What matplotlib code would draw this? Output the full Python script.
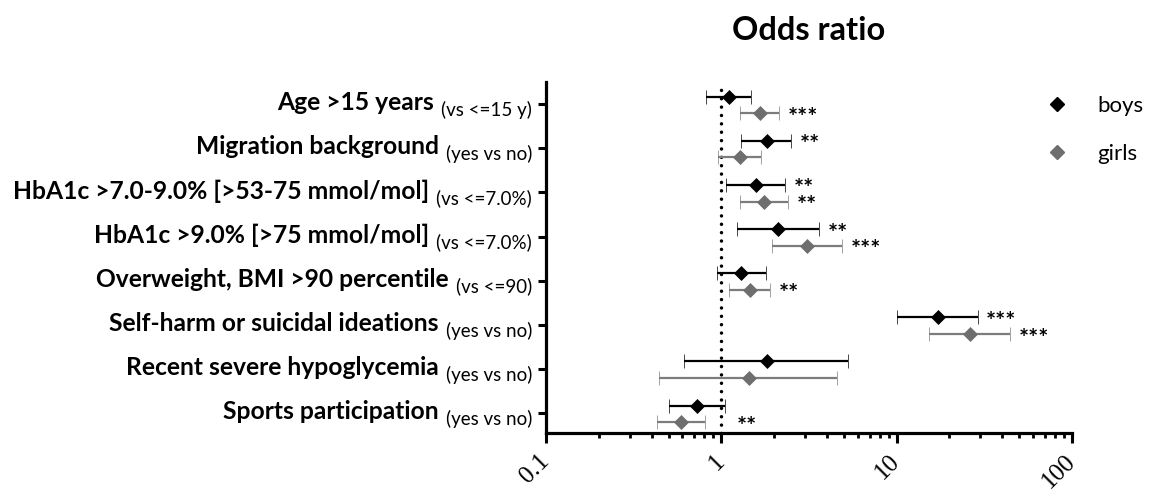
import matplotlib
matplotlib.use("Agg")
import matplotlib.pyplot as plt
import numpy as np
from matplotlib.lines import Line2D
from matplotlib.ticker import LogLocator, NullFormatter

labels = [
    "Age >15 years",
    "Migration background",
    "HbA1c >7.0-9.0% [>53-75 mmol/mol]",
    "HbA1c >9.0% [>75 mmol/mol]",
    "Overweight, BMI >90 percentile",
    "Self-harm or suicidal ideations",
    "Recent severe hypoglycemia",
    "Sports participation",
]
sublabels = [
    "(vs <=15 y)",
    "(yes vs no)",
    "(vs <=7.0%)",
    "(vs <=7.0%)",
    "(vs <=90)",
    "(yes vs no)",
    "(yes vs no)",
    "(yes vs no)",
]

boys_or = [1.10, 1.81, 1.58, 2.11, 1.30, 17.1, 1.81, 0.73]
boys_lo = [0.82, 1.30, 1.07, 1.23, 0.95, 10.0, 0.61, 0.50]
boys_hi = [1.48, 2.51, 2.32, 3.62, 1.80, 29.0, 5.28, 1.05]
boys_sig = ["", "**", "**", "**", "", "***", "", ""]

girls_or = [1.67, 1.27, 1.76, 3.10, 1.46, 26.1, 1.43, 0.59]
girls_lo = [1.27, 0.96, 1.27, 1.95, 1.11, 15.2, 0.44, 0.43]
girls_hi = [2.14, 1.69, 2.41, 4.90, 1.90, 44.5, 4.54, 0.81]
girls_sig = ["***", "", "**", "***", "**", "***", "", "**"]

xticks = [0.1, 1, 10, 100]
xticklabels = ["0.1", "1", "10", "100"]

BLACK = "#000000"
GREY_MK = "#6e6e6e"
GREY_BAR = "#7c7c7c"
SANS = "Lato"

fig = plt.figure(figsize=(11.55, 4.94), dpi=100)
ax = fig.add_axes([546 / 1155, 1 - 433 / 494, (1072 - 546) / 1155, (433 - 82) / 494])

y = np.arange(len(labels))
series = [
    (boys_or, boys_lo, boys_hi, boys_sig, -0.17, BLACK, BLACK),
    (girls_or, girls_lo, girls_hi, girls_sig, 0.21, GREY_MK, GREY_BAR),
]
for orv, lo, hi, sig, off, mcol, bcol in series:
    orv, lo, hi = np.array(orv), np.array(lo), np.array(hi)
    yy = y + off
    ax.errorbar(orv, yy, xerr=[orv - lo, hi - orv], fmt="D", ms=6.8,
                mfc=mcol, mec=mcol, mew=0.5, ecolor=bcol, elinewidth=1.6,
                capsize=5, capthick=1.6, zorder=3)
    for i in y:
        if sig[i]:
            ax.annotate(sig[i], xy=(max(hi[i], 1.1), yy[i]), xytext=(6, -9),
                        textcoords="offset points", ha="left", va="baseline",
                        fontsize=17, fontweight="bold", family=SANS)

ax.axvline(1, color=BLACK, lw=2.5, ls=(0, (0.01, 2.4)),
           dash_capstyle="round", zorder=1)

ax.set_xscale("log")
ax.set_xlim(0.1, 100)
ax.set_ylim(7.45, -0.5)
ax.set_xticks(xticks)
ax.set_xticklabels(xticklabels, rotation=45, ha="right", va="center",
                   rotation_mode="anchor", fontsize=18, family="Liberation Serif")
ax.xaxis.set_minor_locator(LogLocator(base=10, subs=np.arange(2, 10)))
ax.xaxis.set_minor_formatter(NullFormatter())
ax.set_yticks(y)
ax.set_yticklabels([])
ax.tick_params(axis="x", which="major", length=7, width=2.2, pad=11)
ax.tick_params(axis="x", which="minor", length=3.5, width=2.0)
ax.tick_params(axis="y", length=6, width=2.2)
for s in ["top", "right"]:
    ax.spines[s].set_visible(False)
for s in ["left", "bottom"]:
    ax.spines[s].set_linewidth(2.3)

for i in y:
    sub = ax.annotate(sublabels[i], xy=(0, i), xycoords=("axes fraction", "data"),
                      xytext=(-10, -8.5), textcoords="offset points",
                      ha="right", va="baseline", fontsize=13.5, family=SANS)
    ax.annotate(labels[i], xy=(0, i), xycoords=(sub, "data"), xytext=(-5, -4.5),
                textcoords="offset points", ha="right", va="baseline",
                fontsize=17.7, fontweight="bold", family=SANS)

fig.text(809 / 1155, 1 - 31 / 494, "Odds ratio", ha="center", va="center",
         fontsize=23.5, fontweight="bold", family=SANS)

handles = [
    Line2D([], [], marker="D", ls="none", ms=6.8, color=BLACK),
    Line2D([], [], marker="D", ls="none", ms=6.8, color=GREY_MK),
]
fig.legend(handles, ["boys", "girls"], loc="upper left",
           bbox_to_anchor=(1035 / 1155, 1 - 96 / 494), frameon=False,
           borderpad=0, borderaxespad=0, handlelength=2, handletextpad=0.8,
           labelspacing=1.26, prop={"family": SANS, "size": 16})

fig.savefig("out.png", dpi=100)
